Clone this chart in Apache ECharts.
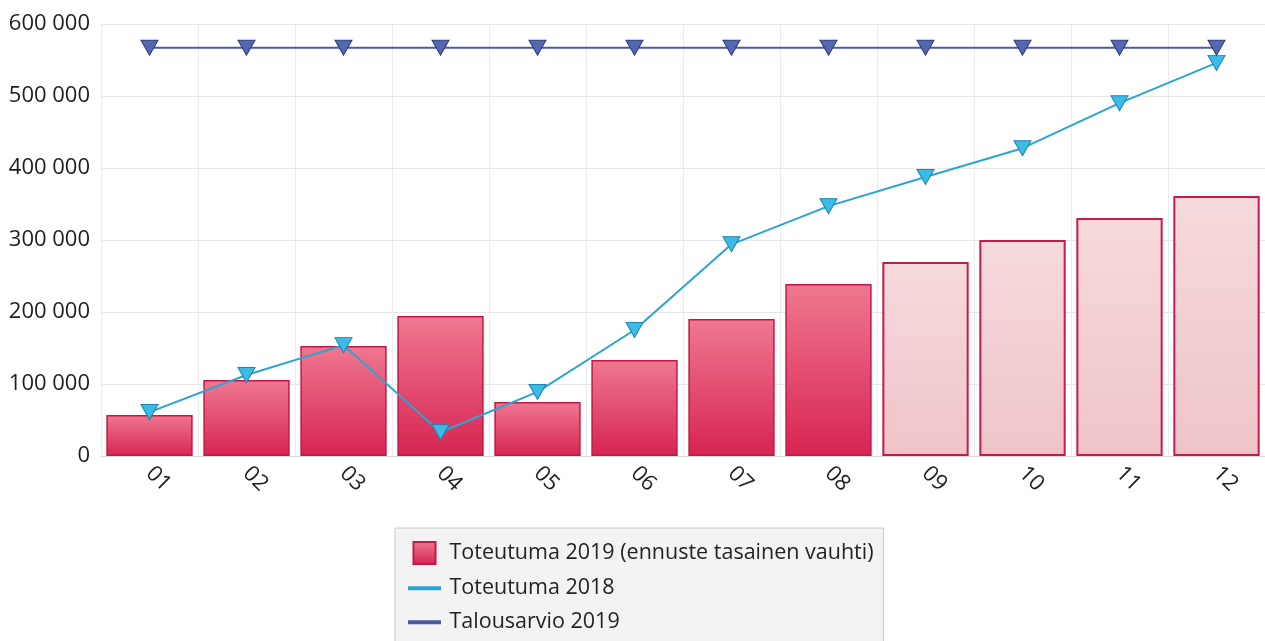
<!DOCTYPE html>
<html>
<head>
<meta charset="utf-8">
<script src="https://cdn.jsdelivr.net/npm/echarts@6/dist/echarts.min.js"></script>
<style>
  html, body { margin: 0; padding: 0; background: #fff; }
  #chart { width: 1265px; height: 641px; }
</style>
</head>
<body>
<div id="chart"></div>
<script>
  // kuukaudet
  var months = ['01', '02', '03', '04', '05', '06', '07', '08', '09', '10', '11', '12'];
  // toteutuma 2019, kk 09-12 ennuste
  var toteutuma2019 = [57000, 105500, 152800, 194400, 75000, 133300, 190300, 238900, 269400, 300000, 330500, 361000];
  var forecastFrom = 8; // index of first forecast month
  var toteutuma2018 = [61000, 112500, 154000, 33000, 89000, 175000, 294000, 347000, 387500, 427500, 490000, 546000];
  var talousarvio2019 = [567000, 567000, 567000, 567000, 567000, 567000, 567000, 567000, 567000, 567000, 567000, 567000];

  var names = ['Toteutuma 2019 (ennuste tasainen vauhti)', 'Toteutuma 2018', 'Talousarvio 2019'];

  var fontFam = '"Open Sans", "Noto Sans", sans-serif';
  var downTri = 'path://M0,0 L16,0 L8,14 Z';
  var lineIcon = 'path://M0,10 L36,10 L36,14.5 L0,14.5 Z M0,0 L0.01,0 L0,0.01 Z M0,24 L0.01,24 L0,23.99 Z';

  var barGrad = new echarts.graphic.LinearGradient(0, 0, 0, 1, [
    { offset: 0, color: '#ef7891' },
    { offset: 1, color: '#d72452' }
  ]);
  var foreGrad = new echarts.graphic.LinearGradient(0, 0, 0, 1, [
    { offset: 0, color: '#f6dadc' },
    { offset: 1, color: '#efc4c9' }
  ]);

  var barData = toteutuma2019.map(function (v, i) {
    if (i < forecastFrom) return v;
    return { value: v, itemStyle: { color: foreGrad, borderColor: '#c8194b', borderWidth: 2 } };
  });

  var myChart = echarts.init(document.getElementById('chart'));
  var option = {
    animation: false,
    textStyle: { fontFamily: fontFam },
    grid: { left: 101, right: -9, top: 24, bottom: 185 },
    legend: {
      orient: 'vertical',
      left: 395,
      top: 528,
      height: 130,
      padding: [13, 10, 40, 13],
      itemGap: 12,
      itemWidth: 36,
      itemHeight: 22,
      backgroundColor: '#f3f3f3',
      borderColor: '#c9c9c9',
      borderWidth: 1,
      selectedMode: false,
      textStyle: { fontSize: 21.5, color: '#232323', fontFamily: fontFam, padding: [0, 0, 0, 2] },
      data: [
        { name: names[0], icon: 'path://M6,0 L30,0 L30,24 L6,24 Z' },
        { name: names[1], icon: lineIcon, itemStyle: { color: '#2aa5d2', borderWidth: 0 } },
        { name: names[2], icon: lineIcon, itemStyle: { color: '#4b5ba3', borderWidth: 0 } }
      ]
    },
    xAxis: {
      type: 'category',
      data: months,
      axisLine: { lineStyle: { color: '#d8d8d8', width: 1 } },
      axisTick: { length: 7, lineStyle: { color: '#a8a8a8', width: 2 } },
      splitLine: { show: true, lineStyle: { color: '#ececec' } },
      axisLabel: { rotate: -45, fontSize: 22, color: '#1e1e1e', margin: 14 }
    },
    yAxis: {
      type: 'value',
      min: 0,
      max: 600000,
      interval: 100000,
      axisLine: { show: false },
      axisTick: { show: false },
      splitLine: { lineStyle: { color: '#e6e6e6' } },
      axisLabel: {
        fontSize: 22,
        color: '#1e1e1e',
        margin: 11,
        formatter: function (v) {
          return String(v).replace(/\B(?=(\d{3})+(?!\d))/g, ' ');
        }
      }
    },
    series: [
      {
        name: names[0],
        type: 'bar',
        barCategoryGap: '11%',
        itemStyle: { color: barGrad, borderColor: '#c41748', borderWidth: 1.5 },
        data: barData
      },
      {
        name: names[1],
        type: 'line',
        symbol: downTri,
        symbolSize: [17, 15],
        lineStyle: { color: '#2aa5d2', width: 2 },
        itemStyle: { color: '#3cbbe4', borderColor: '#1b86b3', borderWidth: 1 },
        data: toteutuma2018
      },
      {
        name: names[2],
        type: 'line',
        symbol: downTri,
        symbolSize: [17, 15],
        lineStyle: { color: '#4b5ba3', width: 2 },
        itemStyle: { color: '#5468b0', borderColor: '#2d3c7e', borderWidth: 1 },
        data: talousarvio2019
      }
    ]
  };
  myChart.setOption(option);
</script>
</body>
</html>
